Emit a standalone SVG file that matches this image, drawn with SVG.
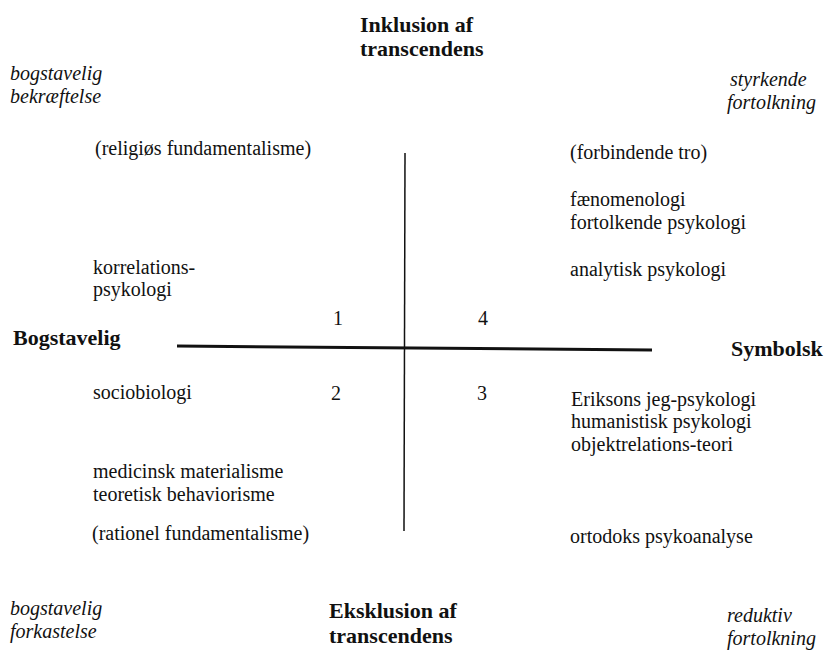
<svg xmlns="http://www.w3.org/2000/svg" width="831" height="654" viewBox="0 0 831 654">
<style>
text{font-family:"Liberation Serif","Times New Roman",serif;font-size:20px;fill:#111}
.b{font-weight:bold;font-size:22px}
.i{font-style:italic}
.ax{stroke:#111;fill:none}
</style>
<rect width="831" height="654" fill="#fff"/>
<g id="axes">
<line class="ax" x1="405" y1="153" x2="404" y2="531" stroke-width="1.5"/>
<line class="ax" x1="177" y1="346" x2="652" y2="350" stroke-width="3"/>
</g>
<g id="top"><text class="b" x="360" y="32">Inklusion af</text><text class="b" x="360" y="56">transcendens</text></g>
<g id="bottom"><text class="b" x="329" y="618">Eksklusion af</text><text class="b" x="329" y="643">transcendens</text></g>
<g id="left"><text class="b" x="13" y="345">Bogstavelig</text></g>
<g id="right"><text class="b" x="731" y="356">Symbolsk</text></g>
<g id="corner-tl"><text class="i" x="10" y="80">bogstavelig</text><text class="i" x="10" y="103">bekræftelse</text></g>
<g id="corner-tr"><text class="i" x="730" y="86">styrkende</text><text class="i" x="727" y="109">fortolkning</text></g>
<g id="corner-bl"><text class="i" x="10" y="615">bogstavelig</text><text class="i" x="10" y="638">forkastelse</text></g>
<g id="corner-br"><text class="i" x="727" y="622">reduktiv</text><text class="i" x="727" y="645">fortolkning</text></g>
<g id="q1">
<text x="95" y="155">(religiøs fundamentalisme)</text>
<text x="93" y="274">korrelations-</text><text x="93" y="296">psykologi</text>
<text x="333" y="325">1</text>
</g>
<g id="q4">
<text x="570" y="159">(forbindende tro)</text>
<text x="570" y="206">fænomenologi</text><text x="570" y="229">fortolkende psykologi</text>
<text x="570" y="276">analytisk psykologi</text>
<text x="478" y="325">4</text>
</g>
<g id="q2">
<text x="93" y="399">sociobiologi</text>
<text x="331" y="400">2</text>
<text x="93" y="478">medicinsk materialisme</text><text x="93" y="501">teoretisk behaviorisme</text>
<text x="92" y="540">(rationel fundamentalisme)</text>
</g>
<g id="q3">
<text x="477" y="400">3</text>
<text x="571" y="406">Eriksons jeg-psykologi</text><text x="571" y="428">humanistisk psykologi</text><text x="571" y="451">objektrelations-teori</text>
<text x="570" y="543">ortodoks psykoanalyse</text>
</g>
</svg>
